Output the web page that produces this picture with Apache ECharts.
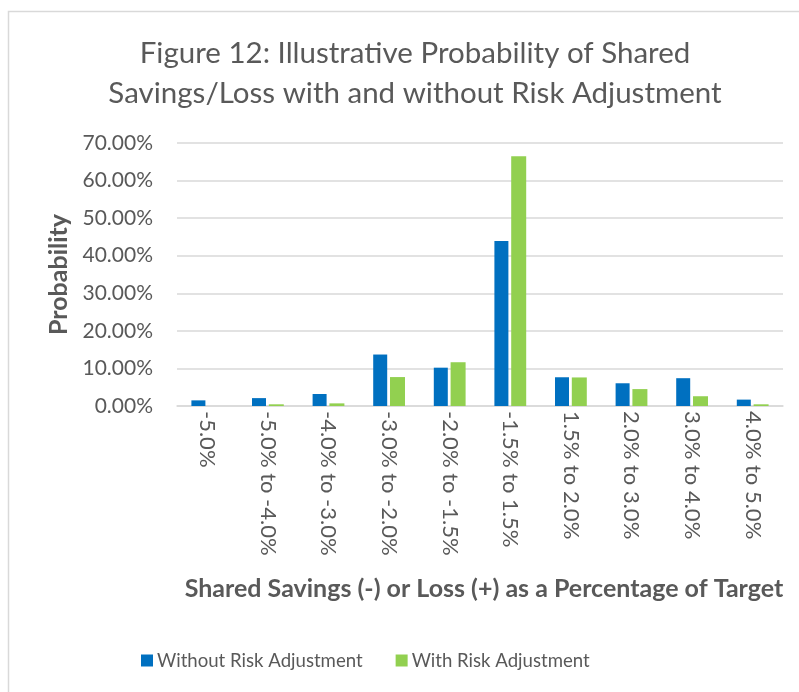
<!DOCTYPE html>
<html>
<head>
<meta charset="utf-8">
<script src="https://cdn.jsdelivr.net/npm/echarts@6/dist/echarts.min.js"></script>
<style>
  html, body { margin: 0; padding: 0; background: #fff; }
  #chart { width: 799px; height: 692px; }
</style>
</head>
<body>
<div id="chart"></div>
<script>
// categories and values (in %)
const categories = [
  "-5.0%", "-5.0% to -4.0%", "-4.0% to -3.0%", "-3.0% to -2.0%", "-2.0% to -1.5%",
  "-1.5% to 1.5%", "1.5% to 2.0%", "2.0% to 3.0%", "3.0% to 4.0%", "4.0% to 5.0%"
];
const withoutRisk = [1.5, 2.1, 3.2, 13.7, 10.2, 43.9, 7.65, 6.05, 7.4, 1.7];
const withRisk = [0, 0.45, 0.7, 7.7, 11.65, 66.5, 7.6, 4.5, 2.6, 0.45];

const font = "Lato, 'Open Sans', sans-serif";
const textColor = "#595959";

const option = {
  backgroundColor: "#fff",
  textStyle: { fontFamily: font },
  graphic: [
    {
      type: "rect",
      shape: { x: 8.5, y: 11.5, width: 900, height: 800 },
      style: { fill: "none", stroke: "#d9d9d9", lineWidth: 1.5 },
      silent: true
    }
  ],
  title: {
    text: "Figure 12: Illustrative Probability of Shared\nSavings/Loss with and without Risk Adjustment",
    left: 410,
    textAlign: "center",
    top: 28,
    textStyle: {
      fontFamily: font,
      fontSize: 29.5,
      fontWeight: "normal",
      color: textColor,
      lineHeight: 40
    }
  },
  legend: {
    left: 136,
    top: 646,
    itemWidth: 12,
    itemHeight: 12,
    itemGap: 33,
    icon: "rect",
    textStyle: { fontFamily: font, fontSize: 18.6, color: textColor, padding: [0, 0, 0, -1] },
    data: ["Without Risk Adjustment", "With Risk Adjustment"]
  },
  grid: {
    left: 177,
    right: 16,
    top: 143,
    bottom: 286
  },
  xAxis: {
    type: "category",
    data: categories,
    name: "Shared Savings (-) or Loss (+) as a Percentage of Target",
    nameLocation: "middle",
    nameGap: 170,
    nameTextStyle: { fontFamily: font, fontSize: 25, fontWeight: "bold", color: textColor, padding: [0, 0, 0, 8] },
    axisLine: { lineStyle: { color: "#d9d9d9", width: 1.5 } },
    axisTick: { show: false },
    axisLabel: {
      rotate: -90,
      margin: 5,
      fontFamily: font,
      fontSize: 22,
      color: textColor,
      interval: 0
    }
  },
  yAxis: {
    type: "value",
    min: 0,
    max: 70,
    interval: 10,
    name: "Probability",
    nameLocation: "middle",
    nameGap: 101,
    nameTextStyle: { fontFamily: font, fontSize: 25, fontWeight: "bold", color: textColor },
    axisLine: { show: false },
    axisTick: { show: false },
    axisLabel: {
      margin: 24,
      fontFamily: font,
      fontSize: 21,
      color: textColor,
      formatter: (v) => v.toFixed(2) + "%"
    },
    splitLine: { lineStyle: { color: "#d9d9d9", width: 1.5 } }
  },
  series: [
    {
      name: "Without Risk Adjustment",
      type: "bar",
      data: withoutRisk,
      barWidth: 14,
      barGap: "20%",
      itemStyle: { color: "#0070C0" }
    },
    {
      name: "With Risk Adjustment",
      type: "bar",
      data: withRisk,
      barWidth: 15,
      itemStyle: { color: "#92D050" }
    }
  ]
};

echarts.init(document.getElementById("chart")).setOption(option);
</script>
</body>
</html>
